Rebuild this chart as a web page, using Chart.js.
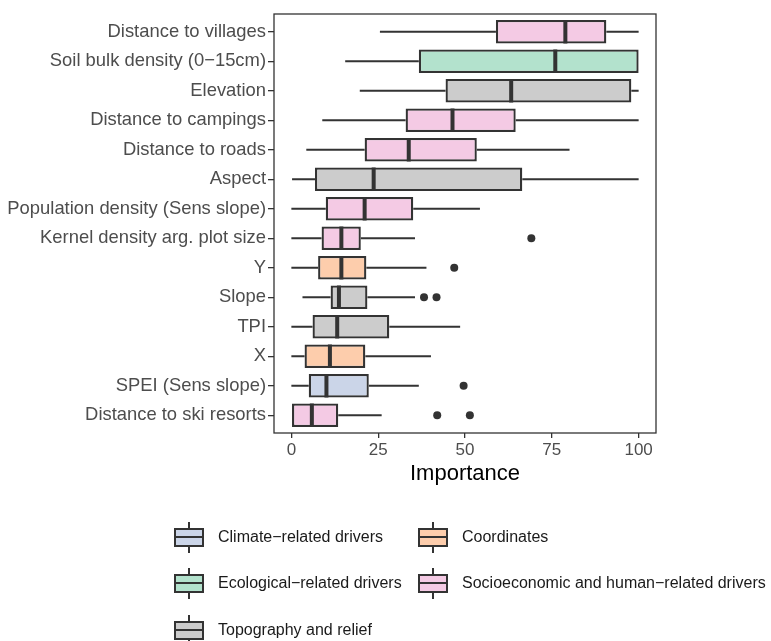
<!DOCTYPE html>
<html>
<head>
<meta charset="utf-8">
<script src="https://cdn.jsdelivr.net/npm/chart.js@4.4.0/dist/chart.umd.min.js"></script>
<style>
  body { margin: 0; background: #fff; font-family: "Liberation Sans", Arial, sans-serif; }
  #wrap { position: relative; width: 771px; height: 641px; }
  #legend .item { position: absolute; height: 31px; display: flex; align-items: center; }
  #legend .key { position: relative; width: 30px; height: 31px; }
  #legend .whisk { position: absolute; left: 14px; top: 0; width: 2px; height: 31px; background: #333; }
  #legend .box { position: absolute; left: 0; top: 6px; width: 30px; height: 19px; box-sizing: border-box; border: 2px solid #333; }
  #legend .med { position: absolute; left: 0; top: 6.5px; width: 100%; height: 2px; background: #333; }
  #legend .lab { position: absolute; left: 44px; font-size: 16px; color: #1a1a1a; white-space: nowrap; }
</style>
</head>
<body>
<div id="wrap">
  <canvas id="myChart"></canvas>
  <div id="legend"></div>
</div>
<script>
const drivers = ['Distance to villages', 'Soil bulk density (0\u221215cm)', 'Elevation', 'Distance to campings',
  'Distance to roads', 'Aspect', 'Population density (Sens slope)', 'Kernel density arg. plot size',
  'Y', 'Slope', 'TPI', 'X', 'SPEI (Sens slope)', 'Distance to ski resorts'];
const groups = ['Socio', 'Eco', 'Topo', 'Socio', 'Socio', 'Topo', 'Socio', 'Socio',
  'Coord', 'Topo', 'Topo', 'Coord', 'Climate', 'Socio'];
const whiskLow = [25.5, 15.5, 19.7, 8.9, 4.3, 0.2, 0, 0, 0, 3.2, 0, 0, 0, 0];
const q1 = [58.9, 36.7, 44.4, 32.9, 21.1, 6.8, 9.9, 8.7, 7.7, 11.3, 6.1, 3.8, 5.0, 0];
const median = [78.9, 76.0, 63.3, 46.4, 33.8, 23.7, 21.1, 14.4, 14.4, 13.7, 13.2, 11.1, 10.1, 5.9];
const q3 = [90.7, 100, 97.9, 64.6, 53.4, 66.5, 35.1, 20.0, 21.6, 21.9, 28.2, 21.3, 22.3, 13.5];
const whiskHigh = [100, 100, 100, 100, 80.1, 100, 54.3, 35.6, 38.9, 35.6, 48.6, 40.2, 36.7, 26.0];
const outlierRow = [7, 8, 9, 9, 12, 13, 13];
const outlierValue = [69.1, 46.9, 38.2, 41.8, 49.6, 42.0, 51.4];
const xTicks = [0, 25, 50, 75, 100];

const groupKeys = ['Climate', 'Coord', 'Eco', 'Socio', 'Topo'];
const groupLabels = ['Climate\u2212related drivers', 'Coordinates', 'Ecological\u2212related drivers',
  'Socioeconomic and human\u2212related drivers', 'Topography and relief'];
const groupColors = { Climate: '#CBD5E8', Coord: '#FDCDAC', Eco: '#B3E2CD', Socio: '#F4CAE4', Topo: '#CCCCCC' };

const font = '"Liberation Sans", Arial, sans-serif';

// whiskers under the boxes, medians and panel border on top
const boxExtras = {
  id: 'boxExtras',
  beforeDatasetsDraw(chart) {
    const { ctx, scales: { x, y } } = chart;
    ctx.save();
    ctx.strokeStyle = '#333';
    ctx.lineWidth = 2;
    ctx.beginPath();
    drivers.forEach((d, i) => {
      const yc = y.getPixelForValue(i);
      ctx.moveTo(x.getPixelForValue(whiskLow[i]), yc);
      ctx.lineTo(x.getPixelForValue(q1[i]), yc);
      ctx.moveTo(x.getPixelForValue(q3[i]), yc);
      ctx.lineTo(x.getPixelForValue(whiskHigh[i]), yc);
    });
    ctx.stroke();
    ctx.restore();
  },
  afterDatasetsDraw(chart) {
    const { ctx, scales: { x, y }, chartArea: a } = chart;
    const bars = chart.getDatasetMeta(0).data;
    ctx.save();
    ctx.strokeStyle = '#333';
    ctx.lineWidth = 4;
    ctx.beginPath();
    drivers.forEach((d, i) => {
      const yc = y.getPixelForValue(i);
      const half = bars[i].height / 2;
      const xm = x.getPixelForValue(median[i]);
      ctx.moveTo(xm, yc - half);
      ctx.lineTo(xm, yc + half);
    });
    ctx.stroke();
    ctx.lineWidth = 1.3;
    ctx.strokeRect(a.left, a.top, a.right - a.left, a.bottom - a.top);
    ctx.restore();
  }
};

const ctx = document.getElementById('myChart');
let myChart = new Chart(ctx, {
  type: 'bar',
  data: {
    datasets: [
      {
        type: 'bar',
        data: drivers.map((d, i) => ({ y: i, x: [q1[i], q3[i]] })),
        backgroundColor: groups.map(g => groupColors[g]),
        borderColor: '#333',
        borderWidth: 2.3,
        borderSkipped: false,
        barPercentage: 0.8,
        categoryPercentage: 1
      },
      {
        type: 'scatter',
        data: outlierValue.map((v, k) => ({ x: v, y: outlierRow[k] })),
        pointRadius: 4,
        backgroundColor: '#333',
        borderWidth: 0
      }
    ]
  },
  options: {
    indexAxis: 'y',
    responsive: true,
    maintainAspectRatio: false,
    animation: false,
    layout: { padding: { left: 0, right: 115, top: 14, bottom: 153 } },
    plugins: { legend: { display: false }, tooltip: { enabled: false } },
    scales: {
      x: {
        type: 'linear',
        min: -5,
        max: 105,
        afterBuildTicks: s => { s.ticks = xTicks.map(v => ({ value: v })); },
        afterFit: s => { s.height = 55; },
        ticks: { color: '#4D4D4D', padding: 2, font: { family: font, size: 17 } },
        grid: { drawOnChartArea: false, drawTicks: true, tickLength: 5, color: '#333', lineWidth: 1.3 },
        border: { display: false },
        title: { display: true, text: 'Importance', color: '#000', font: { family: font, size: 22 }, padding: { top: 0, bottom: 1 } }
      },
      y: {
        type: 'linear',
        min: -0.6,
        max: 13.6,
        reverse: true,
        offset: false,
        afterBuildTicks: s => { s.ticks = drivers.map((d, i) => ({ value: i })); },
        afterFit: s => { s.width = 274; },
        ticks: { color: '#4D4D4D', padding: 2, autoSkip: false, font: { family: font, size: 18.4 }, callback: v => drivers[v] },
        grid: { offset: false, drawOnChartArea: false, drawTicks: true, tickLength: 6, color: '#333', lineWidth: 1.3 },
        border: { display: false }
      }
    }
  },
  plugins: [boxExtras]
});

// legend laid out two per row like the original
const legendPos = { colKey: [174, 418], rowY: [537, 583, 630] };
const legend = document.getElementById('legend');
groupKeys.forEach((g, i) => {
  const item = document.createElement('div');
  item.className = 'item';
  item.style.left = legendPos.colKey[i % 2] + 'px';
  item.style.top = (legendPos.rowY[Math.floor(i / 2)] - 15.5) + 'px';
  item.innerHTML = '<div class="key"><div class="whisk"></div><div class="box" style="background:' + groupColors[g] +
    '"><div class="med"></div></div></div><div class="lab">' + groupLabels[i] + '</div>';
  legend.appendChild(item);
});
</script>
</body>
</html>
